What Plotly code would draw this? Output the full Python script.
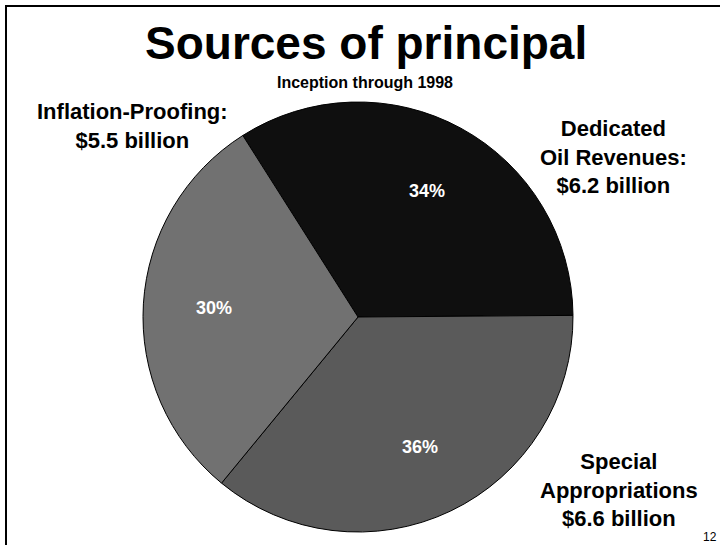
import math
import plotly.graph_objects as go

W, H = 720, 545

categories = ["Dedicated Oil Revenues", "Special Appropriations", "Inflation-Proofing"]
values_billion = [6.2, 6.6, 5.5]
slice_colors = ["#0f0f0f", "#5a5a5a", "#717171"]

outside_labels = [
    "Dedicated<br>Oil Revenues:<br>$6.2 billion",
    "Special<br>Appropriations<br>$6.6 billion",
    "Inflation-Proofing:<br>$5.5 billion",
]

FONT = "Liberation Sans, Arial, Helvetica, sans-serif"

def px(x):
    return x / W

def py(y):
    return 1 - y / H

cx, cy, r = 358, 317, 215
rotation = -32.4

fig = go.Figure(go.Pie(
    labels=categories,
    values=values_billion,
    sort=False,
    direction="clockwise",
    rotation=rotation,
    marker=dict(colors=slice_colors, line=dict(color="#000000", width=1)),
    textinfo="none",
    hoverinfo="label+value+percent",
    showlegend=False,
    domain=dict(x=[px(cx - r), px(cx + r)], y=[py(cy + r), py(cy - r)]),
))

annotations = [
    dict(text="<b>Sources of principal</b>", x=px(366), y=py(43), font=dict(size=46)),
    dict(text="<b>Inception through 1998</b>", x=px(365), y=py(82), font=dict(size=16)),
    dict(text="<b>" + outside_labels[2] + "</b>", x=px(132), y=py(126), font=dict(size=22)),
    dict(text="<b>" + outside_labels[0] + "</b>", x=px(613), y=py(157), font=dict(size=22)),
    dict(text="<b>" + outside_labels[1] + "</b>", x=px(619), y=py(490), font=dict(size=22)),
    dict(text="12", x=px(710), y=py(537), font=dict(size=12)),
]

# percentage labels placed at each slice's mid-angle
total = sum(values_billion)
start = rotation
for v in values_billion:
    span = 360 * v / total
    mid = math.radians(start + span / 2)
    lx = cx + 0.67 * r * math.sin(mid)
    ly = cy - 0.67 * r * math.cos(mid)
    annotations.append(dict(text="<b>%d%%</b>" % round(100 * v / total),
                            x=px(lx), y=py(ly), font=dict(size=18, color="white")))
    start += span

for a in annotations:
    a.update(xref="paper", yref="paper", showarrow=False, xanchor="center", yanchor="middle")
    a["font"].setdefault("color", "black")
    a["font"].update(family=FONT)

fig.update_layout(
    width=W, height=H,
    margin=dict(l=0, r=0, t=0, b=0),
    paper_bgcolor="white",
    plot_bgcolor="white",
    font=dict(family=FONT, color="black"),
    annotations=annotations,
    shapes=[dict(type="rect", xref="paper", yref="paper",
                 x0=px(6), x1=1.2, y0=-0.2, y1=py(6),
                 line=dict(color="black", width=2))],
)

fig.write_html("out.html")
